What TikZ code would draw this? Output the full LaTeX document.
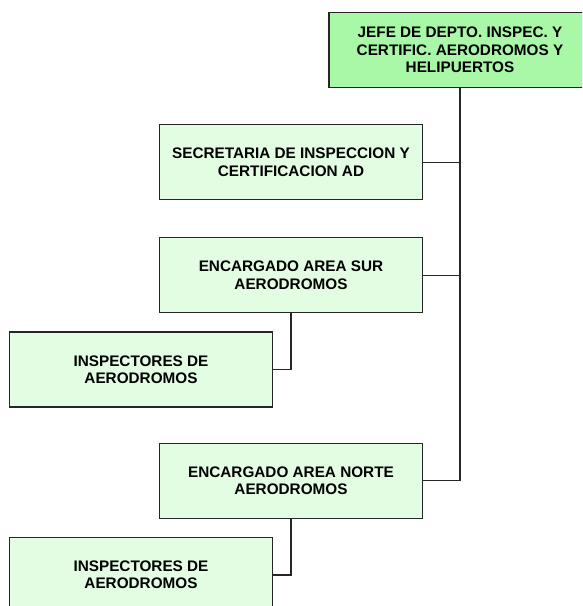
\documentclass[tikz,border=0pt]{standalone}
\usepackage{fontspec}
\setmainfont{Liberation Sans}
\usepackage{xcolor}
\usepackage{tikz}
\usetikzlibrary{positioning}
\definecolor{jefegreen}{RGB}{168, 248, 168}
\definecolor{unitgreen}{RGB}{227, 253, 227}

\begin{document}
\begin{tikzpicture}[
  unit/.style={rectangle, draw=black!85, fill=unitgreen, line width=1.2pt,
    align=center, minimum width=263pt, minimum height=75pt, inner sep=0pt,
    font=\fontsize{15.3}{17.5}\selectfont\bfseries},
  head/.style={unit, fill=jefegreen, minimum width=262pt},
  link/.style={line width=1.2pt, draw=black!85}
]
  \clip (0pt,0pt) rectangle (582pt,-606pt);
  \node[head, anchor=north] (jefe) at (460pt,-12pt)
    {JEFE DE DEPTO. INSPEC. Y\\CERTIFIC. AERODROMOS Y\\HELIPUERTOS};
  \node[unit, anchor=north] (secretaria) at (291pt,-124pt)
    {SECRETARIA DE INSPECCION Y\\CERTIFICACION AD};
  \node[unit, below=37pt of secretaria] (sur) {ENCARGADO AREA SUR\\AERODROMOS};
  \node[unit, below=18pt of sur, xshift=-150pt] (inspsur) {INSPECTORES DE\\AERODROMOS};
  \node[unit, below=35pt of inspsur, xshift=150pt] (norte) {ENCARGADO AREA NORTE\\AERODROMOS};
  \node[unit, below=18pt of norte, xshift=-150pt] (inspnorte) {INSPECTORES DE\\AERODROMOS};

  \draw[link] (jefe.south) |- (norte.east);
  \draw[link] (secretaria.east) -| (jefe.south);
  \draw[link] (sur.east) -| (jefe.south);
  \draw[link] (sur.south) |- (inspsur.east);
  \draw[link] (norte.south) |- (inspnorte.east);
\end{tikzpicture}
\end{document}
